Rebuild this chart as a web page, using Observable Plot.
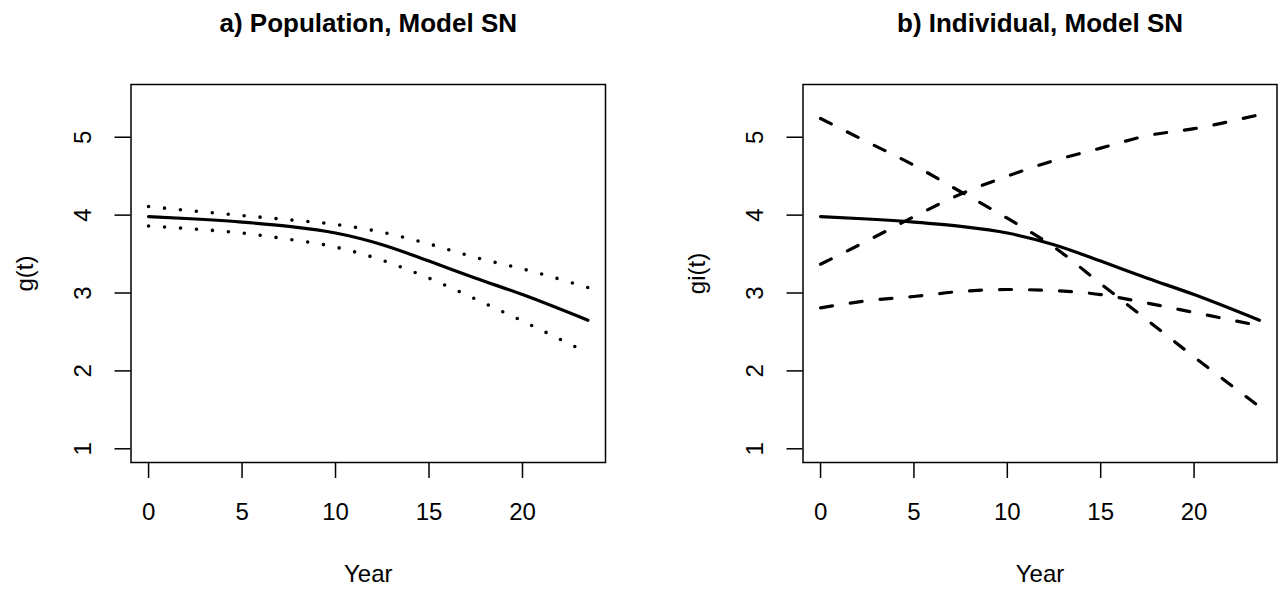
<!DOCTYPE html>
<html><head><meta charset="utf-8">
<script src="https://cdn.jsdelivr.net/npm/d3@7"></script>
<script src="https://cdn.jsdelivr.net/npm/@observablehq/plot@0.6"></script>
<style>
body{margin:0;background:#fff;}
#wrap{display:flex;width:1280px;height:590px;overflow:hidden;}
svg{display:block}
</style></head><body><div id="wrap"></div>
<script>
// Years at which curves were read
const years = [0, 2.5, 5, 7.5, 10, 12.5, 15, 17.5, 20, 23.5];
// Panel a: population curve and its dotted band
const popMean  = [3.98, 3.95, 3.91, 3.855, 3.77, 3.62, 3.41, 3.19, 2.98, 2.65];
const popUpper = [4.11, 4.05, 3.995, 3.94, 3.88, 3.78, 3.63, 3.455, 3.31, 3.07];
const popLower = [3.86, 3.82, 3.77, 3.69, 3.59, 3.42, 3.19, 2.92, 2.64, 2.23];
// Panel b: individual curves (dashed)
const indDecreasing = [5.24, 4.94, 4.64, 4.30, 3.96, 3.59, 3.12, 2.65, 2.18, 1.54];
const indIncreasing = [3.37, 3.67, 3.98, 4.27, 4.50, 4.70, 4.86, 5.02, 5.11, 5.29];
const indFlat       = [2.81, 2.90, 2.955, 3.02, 3.045, 3.03, 2.98, 2.87, 2.75, 2.58];
const xTicks = [0, 5, 10, 15, 20];
const yTicks = [1, 2, 3, 4, 5];
const titles = ["a) Population, Model SN", "b) Individual, Model SN"];
const yLabels = ["g(t)", "gi(t)"];
const xLabel = "Year";

const toRows = vals => years.map((year, i) => ({year, v: vals[i]}));
const FONT = "'Liberation Sans', Arial, Helvetica, sans-serif";
const centered = {textAnchor: "middle", lineAnchor: "middle"};

function panel({title, ylab, solid, dotted, dashed, ml, mr}) {
  const marks = [
    Plot.frame({stroke: "black", strokeWidth: 1.5}),
    Plot.axisX(xTicks, {tickSize: 16, tickPadding: 24, fontSize: 24, label: null, strokeWidth: 1.5}),
    Plot.axisY(yTicks, {tickSize: 16, tickFormat: () => "", label: null, strokeWidth: 1.5}),
    Plot.text(yTicks, {y: d => d, text: d => String(d), frameAnchor: "left", dx: -48, rotate: -90, fontSize: 24, ...centered}),
    Plot.text([ylab], {text: d => d, frameAnchor: "left", dx: -106, rotate: -90, fontSize: 24, ...centered}),
    Plot.text([xLabel], {text: d => d, frameAnchor: "bottom", dy: 112, fontSize: 24, ...centered}),
    Plot.text([title], {text: d => d, frameAnchor: "top", dy: -61, fontSize: 26, fontWeight: "bold", ...centered})
  ];
  for (const s of dotted) marks.push(Plot.line(toRows(s), {x: "year", y: "v", stroke: "black", strokeWidth: 3.6, strokeDasharray: "0,16", strokeLinecap: "round", curve: "monotone-x"}));
  for (const s of dashed) marks.push(Plot.line(toRows(s), {x: "year", y: "v", stroke: "black", strokeWidth: 3.2, strokeDasharray: "12,18", strokeLinecap: "round", curve: "monotone-x"}));
  marks.push(Plot.line(toRows(solid), {x: "year", y: "v", stroke: "black", strokeWidth: 3.2, strokeLinecap: "round", curve: "monotone-x"}));
  return Plot.plot({
    width: 640, height: 590,
    marginLeft: ml, marginRight: mr, marginTop: 84, marginBottom: 128,
    x: {domain: [-0.94, 24.44]},
    y: {domain: [0.824, 5.677]},
    style: {fontFamily: FONT, background: "white", color: "black", overflow: "visible"},
    marks
  });
}

const wrap = document.getElementById("wrap");
wrap.appendChild(panel({title: titles[0], ylab: yLabels[0], solid: popMean, dotted: [popUpper, popLower], dashed: [], ml: 130.5, mr: 35}));
wrap.appendChild(panel({title: titles[1], ylab: yLabels[1], solid: popMean, dotted: [], dashed: [indDecreasing, indIncreasing, indFlat], ml: 162.5, mr: 3.5}));
</script></body></html>
